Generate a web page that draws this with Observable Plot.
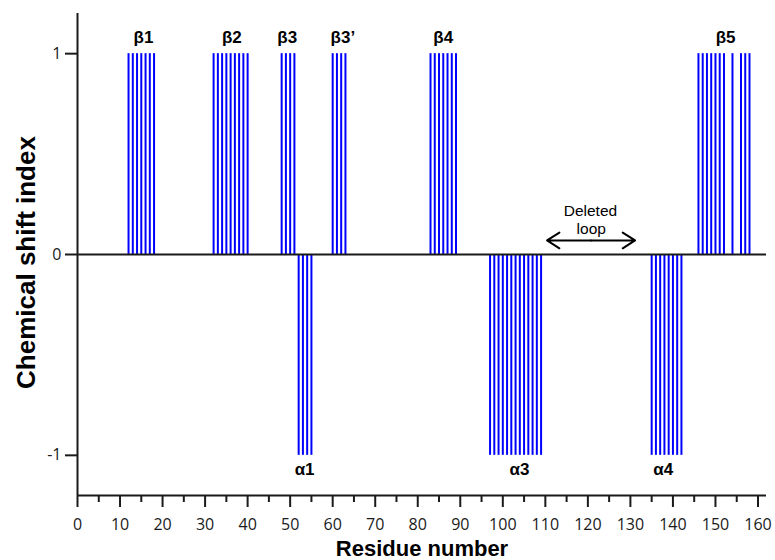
<!DOCTYPE html>
<html><head><meta charset="utf-8">
<script src="https://cdn.jsdelivr.net/npm/d3@7"></script>
<script src="https://cdn.jsdelivr.net/npm/@observablehq/plot@0.6"></script>
<style>
body{margin:0;background:#fff}
g[aria-label="ytitle"] text{letter-spacing:1.5px}
</style>
</head><body><div id="chart"></div>
<script>
// Residue numbers and their chemical shift index values
const residues = [12,13,14,15,16,17,18,
  32,33,34,35,36,37,38,39,40,
  48,49,50,51,
  52,53,54,55,
  60,61,62,63,
  83,84,85,86,87,88,89,
  97,98,99,100,101,102,103,104,105,106,107,108,109,
  135,136,137,138,139,140,141,142,
  146,147,148,149,150,151,152,
  154,
  156,157,158];
const csi = [1,1,1,1,1,1,1,
  1,1,1,1,1,1,1,1,1,
  1,1,1,1,
  -1,-1,-1,-1,
  1,1,1,1,
  1,1,1,1,1,1,1,
  -1,-1,-1,-1,-1,-1,-1,-1,-1,-1,-1,-1,-1,
  -1,-1,-1,-1,-1,-1,-1,-1,
  1,1,1,1,1,1,1,
  1,
  1,1,1];

// Secondary-structure labels
const labelText = ["β1","β2","β3","β3’","β4","β5","α1","α3","α4"];
const labelX = [15.5,36.3,49.3,62.4,86,152.4,53.4,103.9,137.7];
const labelY = [1.078,1.078,1.078,1.078,1.078,1.078,-1.07,-1.07,-1.07];

// Axis ticks
const xTicks = [0,10,20,30,40,50,60,70,80,90,100,110,120,130,140,150,160];
const xMinorTicks = [5,15,25,35,45,55,65,75,85,95,105,115,125,135,145,155];
const yTicks = [-1,0,1];

// Annotation "Deleted loop" and its double arrow
const noteText = ["Deleted","loop"];
const noteX = [120.6,120.8];
const noteY = [0.215,0.127];
const arrowStart = [120.75,120.75];
const arrowEnd = [110.4,131.1];
const arrowY = [0.07,0.07];

const bars = residues.map((r,i)=>({residue:r, csi:csi[i]}));
const labels = labelText.map((t,i)=>({t, x:labelX[i], y:labelY[i]}));
const notes = noteText.map((t,i)=>({t, x:noteX[i], y:noteY[i]}));
const arrows = arrowStart.map((s,i)=>({x1:s, x2:arrowEnd[i], y:arrowY[i]}));

const bold = "'Liberation Sans', Arial, sans-serif";
const axisColor = "#1a1a1a";

const chart = Plot.plot({
  width: 775, height: 560,
  marginTop: 13, marginBottom: 65, marginLeft: 77, marginRight: 9,
  style: {fontFamily: "'Open Sans', sans-serif", background: "#fff", color: axisColor},
  x: {domain: [0,162]},
  y: {domain: [-1.2,1.2]},
  marks: [
    Plot.ruleX(bars, {x: "residue", y1: 0, y2: "csi", stroke: "#0000ff", strokeWidth: 2}),
    Plot.ruleY([0], {stroke: axisColor, strokeWidth: 2}),
    Plot.ruleX([0], {stroke: axisColor, strokeWidth: 2}),
    Plot.ruleY([-1.2], {stroke: axisColor, strokeWidth: 2}),
    Plot.axisX({ticks: xTicks, tickSize: 12, tickPadding: 11, fontSize: 16, label: null, strokeWidth: 2, stroke: axisColor, tickFormat: d => String(d)}),
    Plot.axisX({ticks: xMinorTicks, tickSize: 7, label: null, strokeWidth: 2, stroke: axisColor, tickFormat: () => ""}),
    Plot.axisY({ticks: yTicks, tickSize: 12, tickPadding: 4, fontSize: 16, label: null, strokeWidth: 2, stroke: axisColor, tickFormat: d => String(d)}),
    Plot.text(["Chemical shift index"], {ariaLabel: "ytitle", frameAnchor: "left", textAnchor: "middle", lineAnchor: "middle", rotate: -90, dx: -51, dy: 8, fontSize: 26, fontWeight: "bold", fontFamily: bold, fill: "#000"}),
    Plot.text(["Residue number"], {frameAnchor: "bottom", textAnchor: "middle", dy: 53, lineAnchor: "middle", fontSize: 22, fontWeight: "bold", fontFamily: bold, fill: "#000"}),
    Plot.text(labels, {x: "x", y: "y", text: "t", fontSize: 17, fontWeight: "bold", fontFamily: bold, fill: "#000"}),
    Plot.text(notes, {x: "x", y: "y", text: "t", fontSize: 15.5, fontFamily: bold, fill: "#000"}),
    Plot.arrow(arrows, {x1: "x1", x2: "x2", y1: "y", y2: "y", stroke: "#000", strokeWidth: 2, headLength: 11, headAngle: 65})
  ]
});
document.getElementById("chart").appendChild(chart);
</script>
</body></html>
